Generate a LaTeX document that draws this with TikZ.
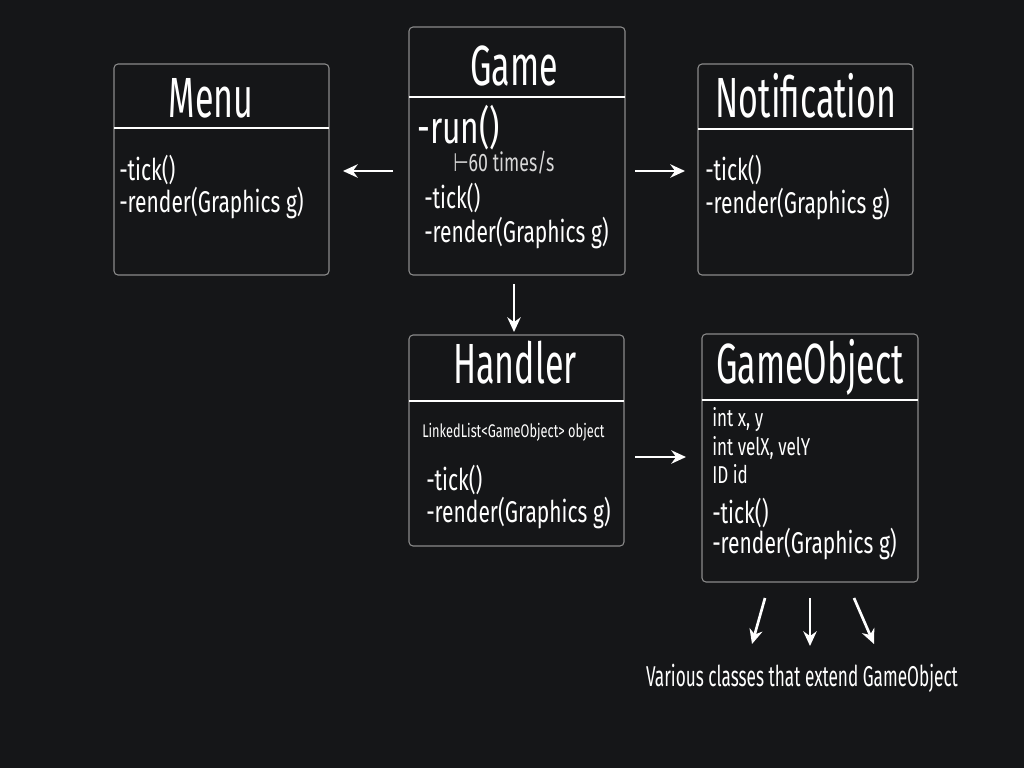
\documentclass[tikz,border=0pt]{standalone}
\usepackage{fontspec}
\setmainfont{Fira Sans}[FakeStretch=0.7]
\newfontfamily\titlefont{Fira Sans}[FakeStretch=0.6]
\newfontfamily\symfont{DejaVu Sans}[FakeStretch=0.7]
\usetikzlibrary{arrows.meta}
\definecolor{bg}{HTML}{151618}
\definecolor{boxline}{HTML}{8A8A8A}
\definecolor{subtext}{HTML}{D8D8D8}
\tikzset{
  cls/.style={draw=boxline, line width=0.8pt, rounded corners=3pt},
  divider/.style={draw=white, line width=0.9pt},
  title/.style={anchor=base, inner sep=0pt, text=white, font=\titlefont\fontsize{42.5}{42.5}\selectfont},
  body/.style={anchor=base west, inner sep=0pt, text=white, font=\fontsize{22.5}{22.5}\selectfont},
  small/.style={anchor=base west, inner sep=0pt, text=white, font=\fontsize{18.3}{18.3}\selectfont},
  tiny/.style={anchor=base west, inner sep=0pt, text=white, font=\fontsize{13.7}{13.7}\selectfont},
  arr/.style={draw=white, line width=2pt, -{Stealth[length=11pt,width=10pt]}}
}
\begin{document}
\begin{tikzpicture}[x=0.75pt,y=-0.75pt]
\fill[bg] (0,0) rectangle (1024,768);
\useasboundingbox (0,0) rectangle (1024,768);

% Menu
\draw[cls] (114,64) rectangle (329,275);
\draw[divider] (114,128) -- (329,128);
\node[title] (menut) at (211,117) {Menu};
\node[body] (menu1) at (119,180) {-tick()};
\node[body] (menu2) at (119,212) {-render(Graphics g)};
\coordinate (menuR) at (343,171);

% Game
\draw[cls] (409,27) rectangle (625,275);
\draw[divider] (409,97) -- (625,97);
\node[title] (gamet) at (514,85) {Game};
\node[body, font=\fontsize{34}{34}\selectfont] (game1) at (417,143) {-run()};
\node[small, font=\fontsize{19}{19}\selectfont, text=subtext] (game2) at (453,171) {{\symfont ⊢}60 times/s};
\node[body] (game3) at (424,208) {-tick()};
\node[body] (game4) at (424,242) {-render(Graphics g)};
\coordinate (gameL) at (393,171);
\coordinate (gameR) at (635,171);
\coordinate (gameB) at (514,284);

% Notification
\draw[cls] (698,64) rectangle (913,275);
\draw[divider] (698,129) -- (913,129);
\node[title] (nott) at (806,117) {Notification};
\node[body] (not1) at (705,180) {-tick()};
\node[body] (not2) at (705,213) {-render(Graphics g)};
\coordinate (notL) at (685,171);

% Handler
\draw[cls] (409,335) rectangle (624,546);
\draw[divider] (409,401) -- (624,401);
\node[title] (hant) at (515,383) {Handler};
\node[tiny] (han1) at (422,437) {LinkedList<GameObject> object};
\node[body] (han2) at (426,490) {-tick()};
\node[body] (han3) at (426,522) {-render(Graphics g)};
\coordinate (hanT) at (514,332);
\coordinate (hanR) at (635,457);

% GameObject
\draw[cls] (702,334) rectangle (918,582);
\draw[divider] (702,400) -- (918,400);
\node[title] (got) at (810,383) {GameObject};
\node[small] (go1) at (712,426) {int x, y};
\node[small] (go2) at (712,455) {int velX, velY};
\node[small] (go3) at (712,483) {ID id};
\node[body] (go4) at (712,523) {-tick()};
\node[body] (go5) at (712,553) {-render(Graphics g)};
\coordinate (goL) at (686,457);

% arrows
\draw[arr] (gameL) -- (menuR);
\draw[arr] (gameR) -- (notL);
\draw[arr] (gameB) -- (hanT);
\draw[arr] (hanR) -- (goL);

% subclasses
\node[anchor=base, inner sep=0pt, text=white, font=\titlefont\fontsize{21.5}{21.5}\selectfont] (various) at (802,686) {Various classes that extend GameObject};
\coordinate (s1a) at (765,598); \coordinate (s1b) at (752,644);
\coordinate (s2a) at (810,598); \coordinate (s2b) at (810,646);
\coordinate (s3a) at (854,598); \coordinate (s3b) at (874,644);
\draw[arr] (s1a) -- (s1b);
\draw[arr] (s2a) -- (s2b);
\draw[arr] (s3a) -- (s3b);
\end{tikzpicture}
\end{document}
